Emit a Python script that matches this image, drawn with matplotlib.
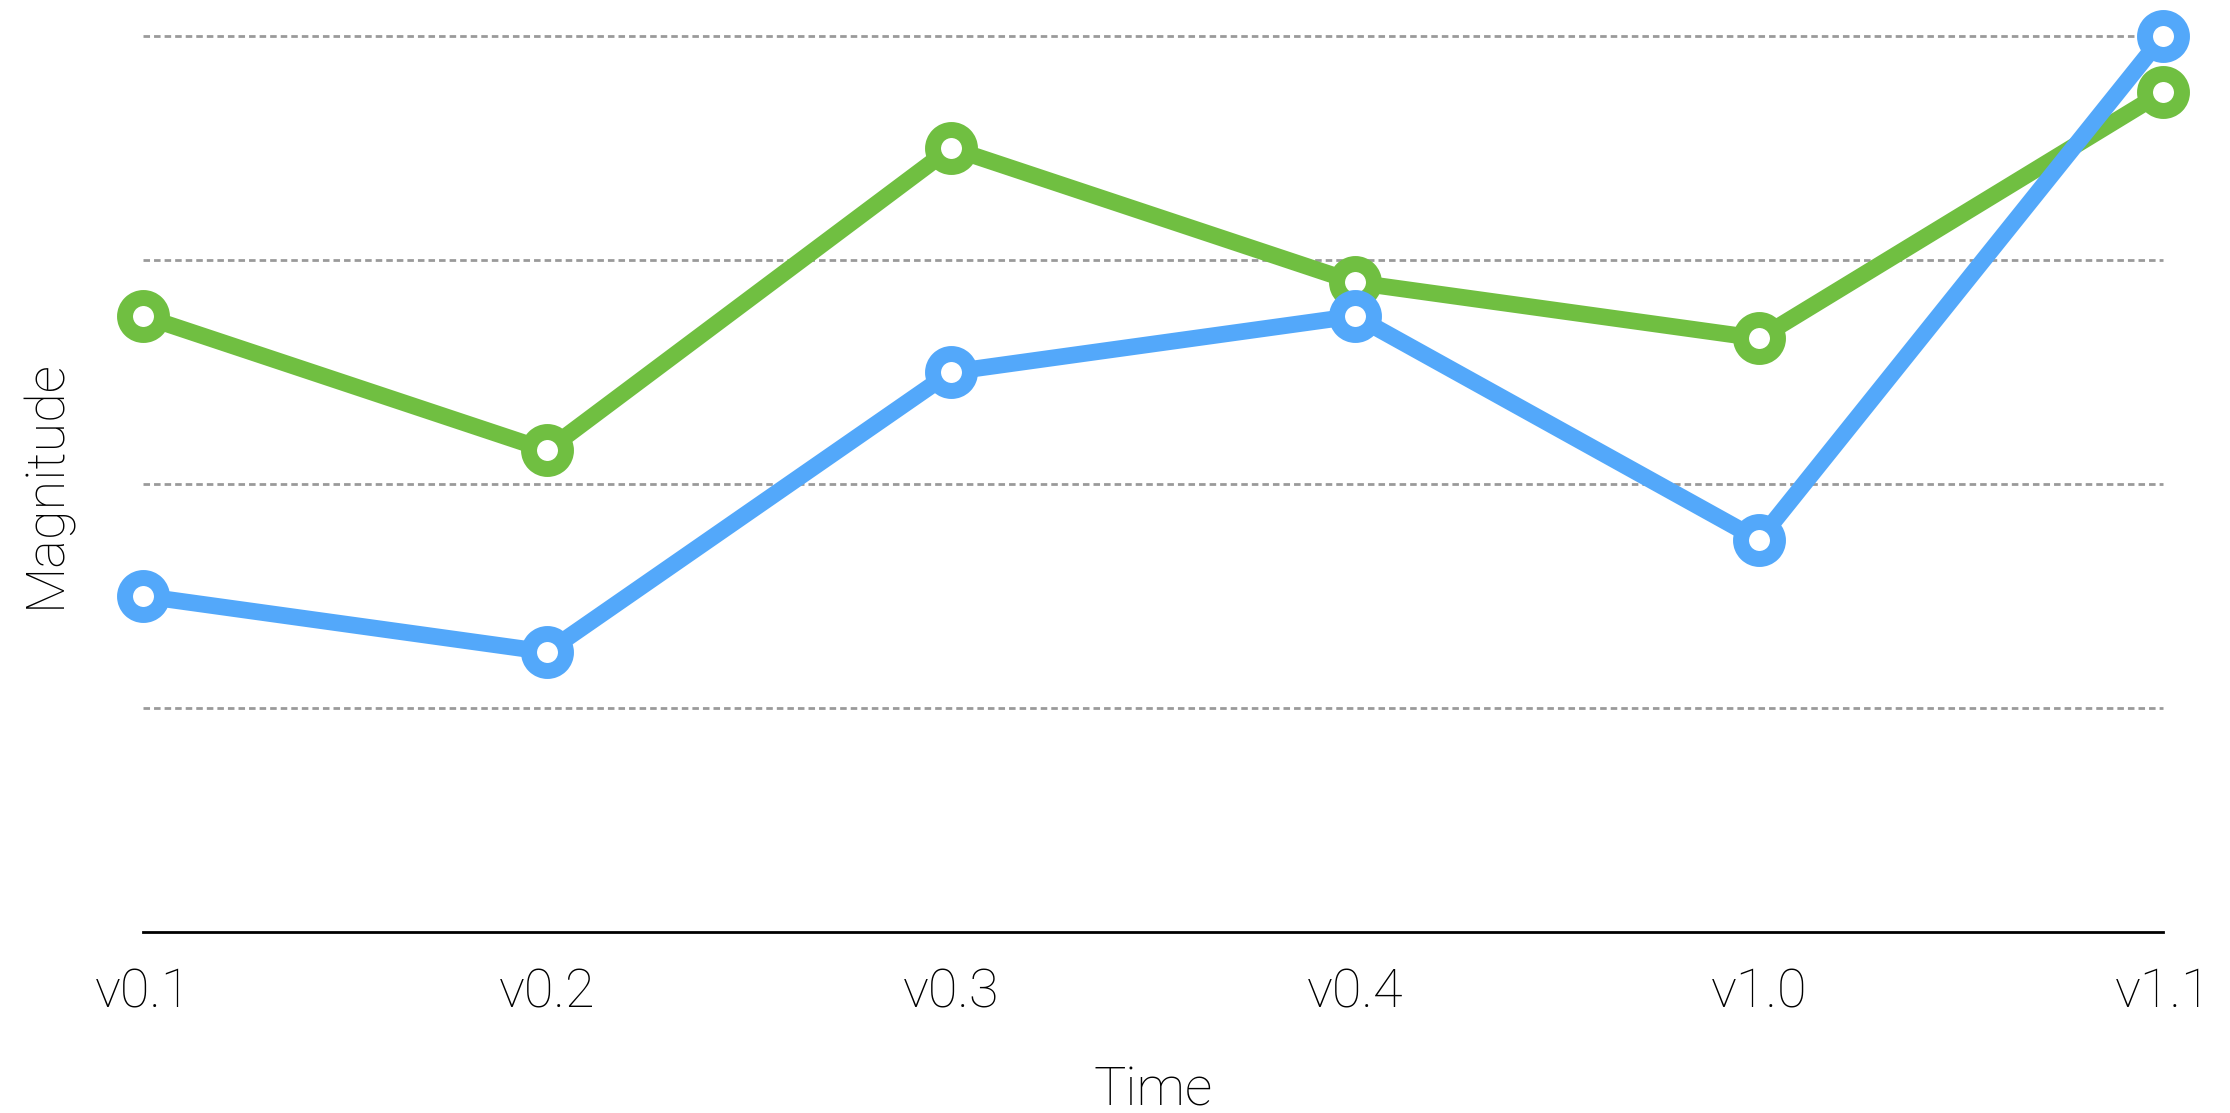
import matplotlib
matplotlib.use("Agg")
import matplotlib.pyplot as plt

categories = ["v0.1", "v0.2", "v0.3", "v0.4", "v1.0", "v1.1"]
green_values = [2.75, 2.15, 3.5, 2.9, 2.65, 3.75]
blue_values = [1.5, 1.25, 2.5, 2.75, 1.75, 4.0]
grid_values = [1, 2, 3, 4]

GREEN = "#70bf41"
BLUE = "#53a8fa"
FONT = ["Roboto", "DejaVu Sans"]

W, H, DPI = 2230, 1113, 100
fig = plt.figure(figsize=(W / DPI, H / DPI), dpi=DPI)
left, right, bottom, top = 143 / W, 2163 / W, (H - 932) / H, (H - 36) / H
ax = fig.add_axes([left, bottom, right - left, top - bottom])

x = list(range(len(categories)))
ax.set_xlim(0, len(categories) - 1)
ax.set_ylim(0, 4)

for g in grid_values:
    ax.axhline(g, color="#9a9a9a", lw=2.0, linestyle=(0, (2.35, 1.45)), zorder=1, clip_on=False)

ms, mew, lw = 26.6, 11.5, 12
for vals, col, z in [(green_values, GREEN, 3), (blue_values, BLUE, 4)]:
    ax.plot(x, vals, color=col, lw=lw, marker="o", markersize=ms,
            markerfacecolor="white", markeredgecolor=col, markeredgewidth=mew,
            solid_capstyle="round", solid_joinstyle="round", zorder=z, clip_on=False)

for s in ["top", "right", "left"]:
    ax.spines[s].set_visible(False)
ax.spines["bottom"].set_linewidth(2.0)
ax.spines["bottom"].set_color("black")

ax.set_yticks([])
ax.set_xticks(x)
ax.set_xticklabels(categories, fontsize=39, family=FONT, fontweight="light")
ax.tick_params(axis="x", length=0, pad=25)

fig.text((left + right) / 2, (H - 1106) / H, "Time", ha="center", va="baseline",
         fontsize=39, family=FONT, fontweight="light")
fig.text(60 / W, (H - 484) / H, "Magnitude", ha="center", va="baseline", rotation=90,
         rotation_mode="anchor", fontsize=39, family=FONT, fontweight="light")

fig.savefig("out.png", dpi=DPI, facecolor="white")
